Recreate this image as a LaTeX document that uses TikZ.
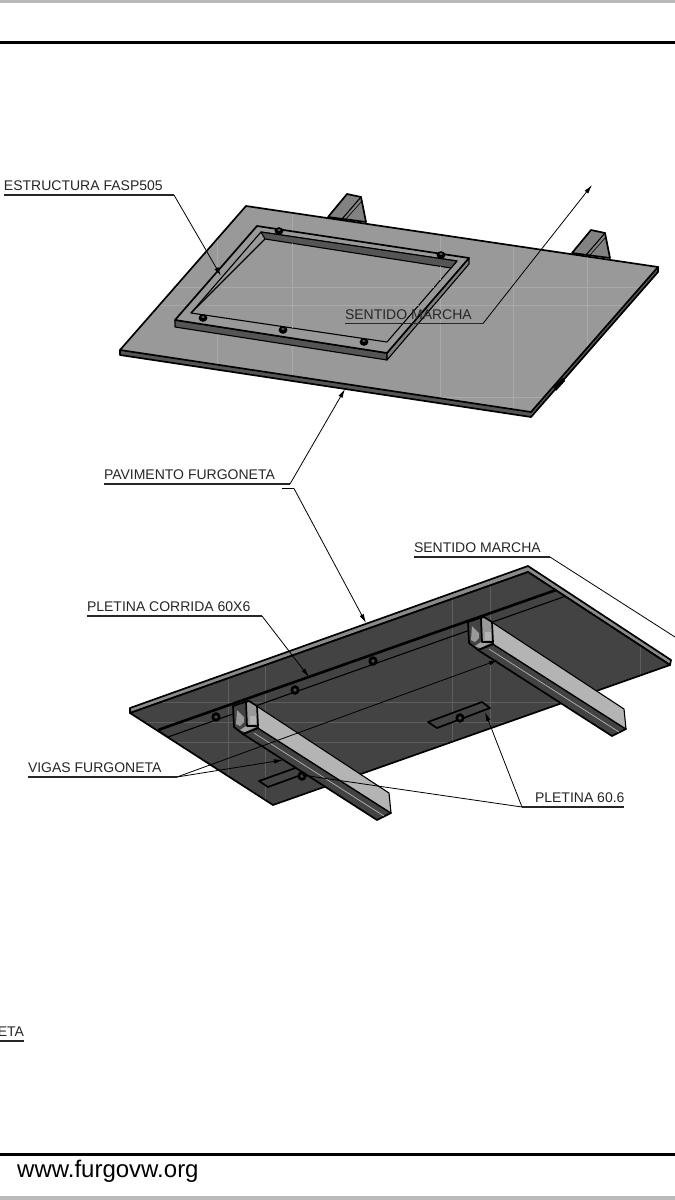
\documentclass[tikz,border=0pt]{standalone}
\usepackage{fontspec}
\setmainfont{Liberation Sans}
\usetikzlibrary{arrows.meta}
\usetikzlibrary{positioning}
\definecolor{topgrey}{HTML}{999999}
\definecolor{floorgrey}{HTML}{434343}
\definecolor{wallgrey}{HTML}{555555}
\definecolor{sidegrey}{HTML}{B4B4B4}
\definecolor{topgrid}{HTML}{A9A9A9}
\definecolor{floorgrid}{HTML}{5E5E5E}
\tikzset{
    edgeline/.style={draw=black, line width=1.7pt, line join=round},
    thinedge/.style={draw=black, line width=1.1pt, line join=round},
    gridline/.style={line width=0.6pt},
    label/.style={anchor=south west, inner sep=0pt, outer sep=0pt, text height=10.5pt, text depth=4.5pt,
        font=\fontsize{14}{15}\selectfont, text=black!85},
    leader/.style={draw=black, line width=0.8pt},
    tipped/.style={leader, -{Latex[length=9pt,width=4.6pt]}},
    under/.style={draw=black!85, line width=1.2pt},
}
\begin{document}
\begin{tikzpicture}[x=1pt, y=-1pt]
    \useasboundingbox (0,0) rectangle (675,1200);
    \fill[white] (0,0) rectangle (675,1200);

    % sheet borders
    \fill[black!27] (0,0) rectangle (675,3);
    \fill[black!27] (0,1196) rectangle (675,1200);
    \draw[line width=2.2pt] (0,42.5) -- (675,42.5);
    \draw[line width=2.2pt] (0,1154.5) -- (675,1154.5);
    \node (web) [anchor=west, inner sep=0pt, font=\fontsize{24}{26}\selectfont] at (17,1171) {www.furgovw.org};

    % beams behind the upper floor
    \foreach \x/\y in {0/0, 244/36}{
        \begin{scope}[shift={(\x,\y)}]
            \filldraw[edgeline, fill=topgrey!85!black] (328,217) -- (347,194) -- (361,197) -- (366,222) -- cycle;
            \draw[thinedge] (342,219) -- (361,197);
            \draw[line width=0.6pt] (346,219) -- (362,201);
        \end{scope}
    }

    % upper floor
    \filldraw[edgeline, fill=wallgrey] (120,350) -- (120,355) -- (531,417) -- (658,272) -- (658,267) -- cycle;
    \fill[topgrey] (246,206) -- (658,267) -- (531,412) -- (120,350) -- cycle;
    \fill[black] (553,387) -- (563,378) -- (565,381) -- (556,391) -- cycle;
    \begin{scope}
        \clip (246,206) -- (658,267) -- (531,412) -- (120,350) -- cycle;
        \foreach \x in {217,292,440,513,587}
            \draw[gridline, topgrid] (\x,190) -- (\x,420);
        \foreach \y in {287,305,397}
            \draw[gridline, topgrid] (110,\y) -- (660,\y);
    \end{scope}
    \draw[edgeline] (246,206) -- (658,267) -- (531,412) -- (120,350) -- cycle;

    % frame on the upper floor
    \filldraw[thinedge, fill=wallgrey] (175,320) -- (175,327) -- (387,360) -- (387,353) -- cycle;
    \filldraw[thinedge, fill=sidegrey!70!black] (387,353) -- (387,360) -- (469,264) -- (469,258) -- cycle;
    \filldraw[edgeline, fill=topgrey] (257,226) -- (469,258) -- (387,353) -- (175,320) -- cycle;
    \filldraw[thinedge, fill=topgrey] (261,232) -- (457,261) -- (387,342) -- (191,313) -- cycle;
    \filldraw[thinedge, fill=wallgrey] (261,232) -- (457,261) -- (451,268) -- (265,239) -- cycle;
    \draw[thinedge] (191,313) -- (265,239);
    \begin{scope}
        \clip (265,239) -- (451,268) -- (387,342) -- (197,314) -- cycle;
        \foreach \x in {292,440}
            \draw[gridline, topgrid] (\x,230) -- (\x,350);
        \foreach \y in {287,305}
            \draw[gridline, topgrid] (190,\y) -- (460,\y);
    \end{scope}
    \foreach \x/\y in {279/231, 441/255, 203/318, 283/330, 364/342}{
        \fill[black] (\x,\y) ellipse (4.4pt and 3.8pt);
        \fill[black!60] (\x,\y-1) ellipse (1.8pt and 1pt);
    }

    % lower floor, seen from below
    \filldraw[edgeline, fill=topgrey!90!black] (130,708) -- (528,566) -- (671,660) -- (670,665) -- (528,572) -- (130,713) -- cycle;
    \fill[floorgrey] (130,713) -- (528,572) -- (670,665) -- (273,805) -- cycle;
    \begin{scope}
        \clip (130,713) -- (528,572) -- (670,665) -- (273,805) -- cycle;
        \foreach \x in {228,265,452,490,640}
            \draw[gridline, floorgrid] (\x,570) -- (\x,810);
        \foreach \y in {702,722,742}
            \draw[gridline, floorgrid] (130,\y) -- (670,\y);
    \end{scope}
    \draw[edgeline] (130,713) -- (528,572) -- (670,665) -- (273,805) -- cycle;

    % long flat bar
    \draw[line width=2.6pt] (158,730) -- (556,590);
    \draw[thinedge] (168,737) -- (566,596);
    \draw[thinedge] (158,730) -- (168,737);
    \foreach \x/\y in {216/717, 295/690, 373/661}{
        \fill[black] (\x,\y) ellipse (4.6pt and 4.8pt);
        \fill[black!70] (\x,\y) ellipse (1.8pt and 1.8pt);
    }

    % short flat bars
    \filldraw[edgeline, fill=floorgrey] (428,722) -- (482,702) -- (490,708) -- (437,728) -- cycle;
    \filldraw[edgeline, fill=floorgrey] (259,781) -- (315,761) -- (323,767) -- (268,787) -- cycle;

    % beams under the lower floor
    \foreach \x/\y in {0/0, 235/-84}{
        \begin{scope}[shift={(\x,\y)}]
            \filldraw[edgeline, fill=floorgrey] (243,734) -- (377,820) -- (391,813) -- (258,728) -- cycle;
            \filldraw[thinedge, fill=sidegrey] (249,701) -- (389,793) -- (391,813) -- (258,728) -- cycle;
            \draw[line width=0.7pt, sidegrey] (254,733) -- (384,816);
            \filldraw[edgeline, fill=floorgrey] (233,706) -- (248,701) -- (258,728) -- (243,734) -- (234,727) -- cycle;
            \fill[sidegrey!85!black] (237,710) -- (244,717) -- (244,722) -- (240,726) -- (236,724) -- cycle;
            \fill[sidegrey!90!black] (240,730) -- (246,726) -- (256,727) -- (245,732) -- cycle;
            \filldraw[edgeline, fill=topgrey] (246,702) -- (249,701) -- (257,706) -- (258,726) -- (247,726) -- cycle;
            \fill[sidegrey] (250,716) -- (256,716) -- (256,724) -- (250,724) -- cycle;
        \end{scope}
    }
    \foreach \x/\y in {460/718, 302/776}{
        \fill[black] (\x,\y) ellipse (4.6pt and 4.8pt);
        \fill[black!70] (\x,\y) ellipse (1.8pt and 1.8pt);
    }

    % labels
    \node (estructura) [label] at (4,195) {ESTRUCTURA FASP505};
    \node (sentidoup) [label] at (345,323.5) {SENTIDO MARCHA};
    \node (pavimento) [label] at (104,484) {PAVIMENTO FURGONETA};
    \node (sentidolow) [label] at (414,557) {SENTIDO MARCHA};
    \node (corrida) [label] at (87,616) {PLETINA CORRIDA 60X6};
    \node (vigas) [label] at (28,777) {VIGAS FURGONETA};
    \node (pletina) [label] at (535,807) {PLETINA 60.6};
    \node (cut) [label, anchor=south east] at (24,1041) {ETA};

    % free ends of the leaders
    \coordinate (estructuraend) at (221,276);
    \coordinate (sentidoupend) at (592,185);
    \coordinate (pavimentoend) at (345,389);
    \coordinate (pavimentolow) at (366,623);
    \coordinate (sentidolowend) at (675,637);
    \coordinate (corridaend) at (309,677);
    \coordinate (vigasright) at (498,660);
    \coordinate (vigasleft) at (283,760);
    \coordinate (pletinaright) at (485,712);
    \coordinate (pletinaleft) at (302,775);
    \coordinate (pletinaknee) at (522,807);

    \draw[under] (estructura.south west) -- (174,195);
    \draw[tipped] (174,195) -- (estructuraend);
    \draw[under] (sentidoup.south west) -- (483,323.5);
    \draw[tipped] (483,323.5) -- (sentidoupend);
    \draw[under] (pavimento.south west) -- (290,484);
    \draw[tipped] (290,484) -- (pavimentoend);
    \draw[leader] (282,488.5) -- (294,488.5);
    \draw[tipped] (294,488.5) -- (pavimentolow);
    \draw[under] (sentidolow.south west) -- (550,557);
    \draw[leader] (550,557) -- (sentidolowend);
    \draw[under] (corrida.south west) -- (262,616);
    \draw[tipped] (262,616) -- (corridaend);
    \draw[under] (vigas.south west) -- (177,777);
    \draw[tipped] (177,777) -- (vigasright);
    \draw[tipped] (177,777) -- (vigasleft);
    \draw[under] (pletinaknee) -- (pletina.south east);
    \draw[tipped] (pletinaknee) -- (pletinaright);
    \draw[leader] (pletinaknee) -- (pletinaleft);
    \draw[under] (0,1041) -- (cut.south east);
\end{tikzpicture}
\end{document}
